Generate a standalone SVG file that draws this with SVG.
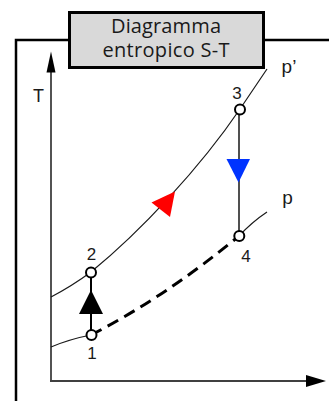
<svg xmlns="http://www.w3.org/2000/svg" width="329" height="401" viewBox="0 0 329 401">
<style>
.lbl{font-family:"Liberation Sans",Arial,sans-serif;font-size:17px;fill:#1a1a1a;text-anchor:middle}
.ttl{font-family:"Open Sans","Liberation Sans",sans-serif;font-size:20px;fill:#1a1a1a;text-anchor:middle}
.thin{fill:none;stroke:#1a1a1a;stroke-width:1.2}
.pt{fill:#fff;stroke:#000;stroke-width:2}
.axis{fill:none;stroke:#404040;stroke-width:1.8}
</style>
<rect width="329" height="401" fill="#fff"/>
<g id="frame"><path d="M16,401 V40 H329" fill="none" stroke="#000" stroke-width="2.5"/></g>
<g id="title">
<rect x="69.5" y="12.5" width="194" height="55" fill="#d9d9d9" stroke="#000" stroke-width="3"/>
<text class="ttl" x="166" y="32.5" textLength="110" lengthAdjust="spacing">Diagramma</text>
<text class="ttl" x="166" y="57" textLength="127" lengthAdjust="spacing">entropico S-T</text>
</g>
<g id="axes">
<line class="axis" x1="51" y1="70" x2="51" y2="381"/>
<line class="axis" x1="50" y1="381" x2="308" y2="381"/>
<polygon points="51,51.5 46.5,72.5 55.5,72.5" fill="#000"/>
<polygon points="326,381 306,375 306,387" fill="#000"/>
<text class="lbl" x="38.5" y="101.5" style="font-size:18px">T</text>
</g>
<g id="connectors">
<path class="thin" d="M51,297 Q72,286 91,272 C140,232 200,168 240,109 L267,69"/>
<path class="thin" d="M51,347 Q70,339 91,335"/>
<path class="thin" d="M239,236 Q252,222 267,212"/>
<path d="M91,335 Q165,297 239,236" fill="none" stroke="#000" stroke-width="3" stroke-dasharray="12 7"/>
<line x1="91" y1="272" x2="91" y2="335" stroke="#000" stroke-width="2"/>
<line x1="239" y1="109" x2="239" y2="236" stroke="#505050" stroke-width="2"/>
<polygon points="91,290 79,314 103,314" fill="#000"/>
<polygon points="226.5,159 250,159 238.5,182.5" fill="#0033ff"/>
<polygon points="175,191.5 151.5,202.5 170,217" fill="#ff0000"/>
</g>
<g id="node1"><circle class="pt" cx="91.5" cy="335" r="5"/><text class="lbl" x="92" y="359">1</text></g>
<g id="node2"><circle class="pt" cx="91" cy="272.5" r="5"/><text class="lbl" x="91.5" y="260">2</text></g>
<g id="node3"><circle class="pt" cx="240" cy="109.5" r="5"/><text class="lbl" x="237" y="99">3</text></g>
<g id="node4"><circle class="pt" cx="239.3" cy="236" r="5"/><text class="lbl" x="246" y="262">4</text></g>
<g id="labels">
<text class="lbl" x="289" y="73" style="font-size:19px">p’</text>
<text class="lbl" x="287.5" y="204" style="font-size:19px">p</text>
</g>
</svg>
